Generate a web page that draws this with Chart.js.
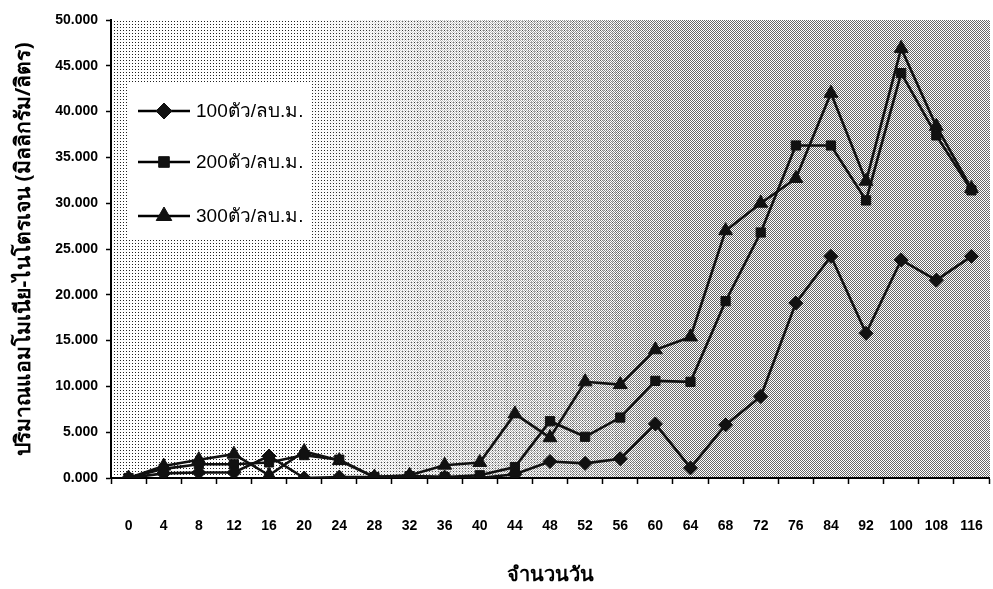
<!DOCTYPE html>
<html><head><meta charset="utf-8">
<script src="https://cdn.jsdelivr.net/npm/chart.js@4/dist/chart.umd.min.js"></script>
<style>html,body{margin:0;padding:0;background:#fff;overflow:hidden}#wrap{width:998px;height:589px}</style>
</head><body><div id="wrap"><canvas id="c" width="998" height="589"></canvas></div>
<script>
const categories = ['0','4','8','12','16','20','24','28','32','36','40','44','48','52','56','60','64','68','72','76','84','92','100','108','116'];
const s100 = [0,0.5,0.6,0.6,2.4,0,0.1,0.1,0.2,0.1,0,0.4,1.8,1.6,2.1,5.9,1.1,5.8,8.9,19.1,24.2,15.8,23.8,21.6,24.2];
const s200 = [0,1.0,1.5,1.5,1.7,2.5,2.0,0.1,0.2,0.1,0.3,1.2,6.2,4.5,6.6,10.6,10.5,19.3,26.8,36.3,36.3,30.3,44.2,37.4,31.4];
const s300 = [0,1.3,2.0,2.6,0.3,2.9,1.9,0.1,0.3,1.4,1.7,7.0,4.4,10.5,10.2,14.0,15.4,27.0,30.0,32.7,42.0,32.4,46.9,38.4,31.6];
const seriesLabels = ['100ตัว/ลบ.ม.','200ตัว/ลบ.ม.','300ตัว/ลบ.ม.'];
const yTitle = 'ปริมาณแอมโมเนีย-ไนโตรเจน (มิลลิกรัม/ลิตร)';
const xTitle = 'จำนวนวัน';

function mkPattern(w,h,dots,col){
  const c=document.createElement('canvas');c.width=w;c.height=h;
  const g=c.getContext('2d');g.fillStyle='#fff';g.fillRect(0,0,w,h);
  g.fillStyle=col;dots.forEach(d=>g.fillRect(d[0],d[1],1,1));
  return c;
}
const bgPlugin={id:'bg',beforeDraw(chart){
  const {ctx,chartArea:a}=chart;
  const pA=ctx.createPattern(mkPattern(3,3,[[0,0]],'#222'),'repeat');
  const pB=ctx.createPattern(mkPattern(2,2,[[0,0],[1,1]],'#666'),'repeat');
  ctx.save();
  ctx.fillStyle=pA;ctx.fillRect(a.left,a.top,a.width,a.height);
  const n=40;
  for(let i=0;i<n;i++){
    const x0=a.left+a.width*i/n, t=i/n;
    ctx.globalAlpha=Math.max(0,Math.min(1,(t-0.2)/0.45));
    ctx.fillStyle=pB;ctx.fillRect(x0,a.top,a.width/n+1,a.height);
  }
  ctx.restore();
}};
const legendPlugin={id:'legbox',afterDatasetsDraw(chart,args,opts){
  const ctx=chart.ctx;ctx.save();
  ctx.fillStyle='#fff';ctx.fillRect(opts.x,opts.y,opts.w,opts.h);
  chart.data.datasets.forEach((ds,i)=>{
    const y=opts.rows[i];
    ctx.strokeStyle='#000';ctx.lineWidth=2.5;
    ctx.beginPath();ctx.moveTo(opts.lx0,y);ctx.lineTo(opts.lx1,y);ctx.stroke();
    ctx.fillStyle='#111';ctx.strokeStyle='#111';ctx.lineWidth=1;
    Chart.helpers.drawPoint(ctx,{pointStyle:ds.pointStyle,radius:ds.pointRadius+1,borderWidth:1},(opts.lx0+opts.lx1)/2,y);
    ctx.fillStyle='#000';ctx.font=opts.font;ctx.textBaseline='middle';ctx.textAlign='left';
    ctx.fillText(ds.label,opts.tx,y+1);
  });
  ctx.restore();
}};
const tickFont={family:'"Liberation Sans Narrow","Arial Narrow","Liberation Sans",sans-serif',size:14,weight:'bold'};
function ds(label,data,style,r){return {label,data,borderColor:'#111',backgroundColor:'#111',borderWidth:2.6,pointStyle:style,pointRadius:r,pointBorderWidth:1,pointBorderColor:'#111',pointBackgroundColor:'#111',tension:0,fill:false};}
new Chart(document.getElementById('c'),{
  type:'line',
  data:{labels:categories,datasets:[ds(seriesLabels[0],s100,'rectRot',7),ds(seriesLabels[1],s200,'rect',6.5),ds(seriesLabels[2],s300,'triangle',8)]},
  options:{responsive:false,animation:false,
    layout:{padding:{top:20,right:0,left:0,bottom:0}},
    plugins:{legend:{display:false},tooltip:{enabled:false},
      legbox:{x:128,y:82,w:184,h:158,rows:[111,162,216],lx0:138,lx1:190,tx:196,font:'19px "Liberation Sans","Noto Sans",sans-serif'}},
    scales:{
      x:{type:'category',offset:true,
        grid:{offset:true,drawOnChartArea:false,tickLength:6,color:'#000',tickWidth:1.5},
        border:{color:'#000',width:2},
        ticks:{color:'#000',font:tickFont,padding:34,maxRotation:0,autoSkip:false},
        title:{display:true,text:xTitle,color:'#000',font:{family:'"Noto Sans","DejaVu Sans",sans-serif',size:20,weight:'bold'},padding:{top:0,bottom:2}},
        afterFit(s){s.height=111;s.paddingRight=0;s.paddingLeft=0;}
      },
      y:{min:0,max:50,
        grid:{drawOnChartArea:false,tickLength:5,color:'#000',tickWidth:1.5},
        border:{color:'#000',width:2},
        ticks:{stepSize:5,color:'#000',font:tickFont,padding:8,callback:v=>v.toFixed(3)},
        title:{display:true,text:yTitle,color:'#000',font:{family:'"Noto Sans","DejaVu Sans",sans-serif',size:21,weight:'bold'},padding:{top:11,bottom:0}},
        afterFit(s){s.width=111;}
      }
    }
  },
  plugins:[bgPlugin,legendPlugin]
});
</script></body></html>
